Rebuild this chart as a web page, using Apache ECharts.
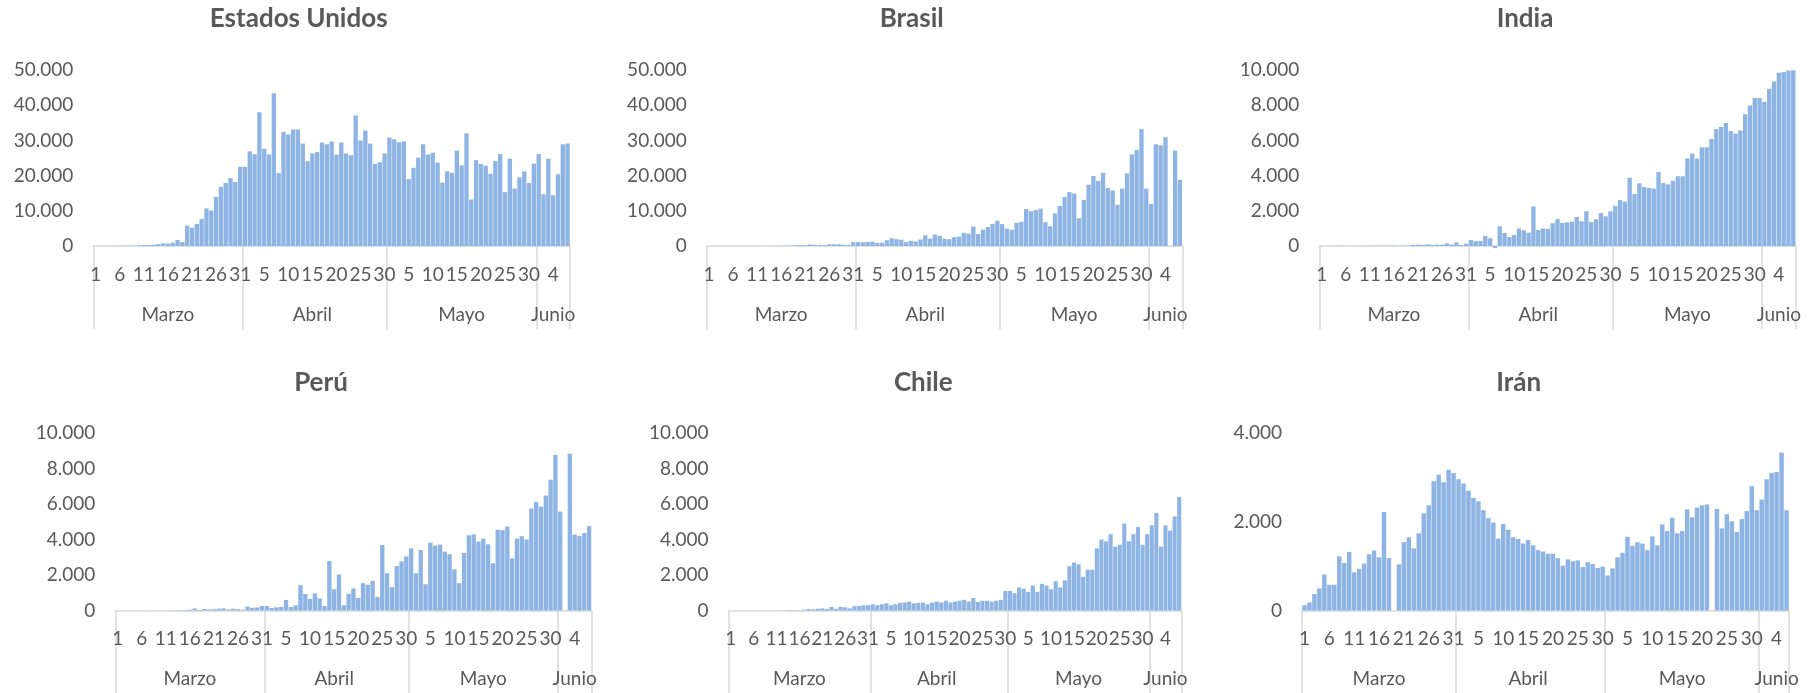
<!DOCTYPE html>
<html><head><meta charset="utf-8">
<script src="https://cdn.jsdelivr.net/npm/echarts@6/dist/echarts.min.js"></script>
<style>html,body{margin:0;padding:0;background:#fff}#c{width:1811px;height:693px}</style>
</head><body><div id="c"></div>
<script>
// Day-of-month categories: 1 Mar .. 7 Jun
const days = [
 "1","2","3","4","5","6","7","8","9","10","11","12","13","14","15","16","17","18","19","20","21","22","23","24","25","26","27","28","29","30","31",
 "1","2","3","4","5","6","7","8","9","10","11","12","13","14","15","16","17","18","19","20","21","22","23","24","25","26","27","28","29","30",
 "1","2","3","4","5","6","7","8","9","10","11","12","13","14","15","16","17","18","19","20","21","22","23","24","25","26","27","28","29","30","31",
 "1","2","3","4","5","6","7"
];
const monthNames = ["Marzo","Abril","Mayo","Junio"];
const monthStartIdx = [0,31,61,92];
const monthLabelIdx = [15,45,76,95];

const usa = [
 3,6,14,22,34,74,105,95,121,200, 271,287,351,511,777,700,940,1700,1130,5800,
 5200,6300,7700,10700,10100,13900,16800,17900,19300,18200, 22500,
 22500,26900,26100,38000,27600,26000,43400,20700,32400,31700,
 33100,33100,29100,24100,26300,26700,29400,28900,29700,26000,
 29400,26300,25800,37100,30000,32800,29100,23300,23800,26300,
 30800,30300,29500,29700,19000,22200,25100,28900,26000,26500,
 23700,18000,21200,20800,27100,22900,32000,13200,24400,23300,
 22800,20500,24100,26100,15300,24800,16300,19500,21200,17900, 23400,
 26100,14700,24800,14400,20400,28900,29100
];
const brasil = [
 0,1,0,0,6,1,5,6,0,5, 18,25,21,23,79,34,57,137,193,283,
 224,418,345,310,232,482,502,487,352,323, 1100,
 1100,1080,1150,1200,850,930,1650,2200,1930,1780,
 1090,1440,1260,1830,3050,2100,3250,2900,2050,1930,
 2500,2680,3730,3500,5500,3380,4600,5380,6280,7200,
 6200,4950,4600,6600,6900,10500,9900,10200,10600,6750,
 5600,9250,11400,13900,15300,14900,7900,13100,17400,19900,
 18500,20800,16500,15800,11700,16300,20600,26000,27300,33200, 16300,
 11900,28900,28600,30900,0,27100,18800
];
const india = [
 0,0,1,2,22,2,1,3,5,9, 15,8,10,11,10,23,12,23,22,64,
 79,69,87,66,81,75,149,88,200,50, 130,
 340,280,280,570,440,-120,1120,740,510,620,
 1000,890,760,2250,910,990,970,1290,1530,1310,
 1340,1380,1650,1400,1970,1360,1520,1870,1690,1970,
 2270,2610,2520,3880,2950,3560,3350,3300,3260,4200,
 3580,3500,3710,3960,3960,4980,5250,4960,5610,5610,
 6080,6650,6760,6990,6530,6380,6570,7480,7990,8410, 8410,
 8180,8940,9340,9850,9890,9970,9980
];
const peru = [
 0,0,0,0,0,1,0,5,1,2, 4,6,12,16,33,43,115,31,89,60,
 70,100,120,60,100,80,50,220,150,170, 250,
 260,140,180,200,590,200,300,1430,930,650,
 960,680,250,2790,1200,2030,300,940,1240,700,
 1540,1450,1670,760,3690,2100,1320,2510,2770,3050,
 3500,2100,3410,1480,3820,3650,3710,3320,3170,2320,
 1540,3240,4230,4290,3880,4050,3730,2660,4550,4530,
 4730,2940,4050,4190,4000,5740,6110,5850,6480,7360, 8760,
 5570,0,8830,4280,4190,4360,4750
];
const chile = [
 0,0,1,0,0,0,3,2,3,0, 0,10,10,18,14,14,44,85,64,104,
 120,87,196,92,206,178,123,243,252,293, 300,
 350,300,350,400,300,350,430,450,500,400,
 430,450,350,450,500,450,550,450,500,550,
 600,500,700,480,550,550,500,550,600,1100,
 1100,980,1300,1230,1050,1400,1050,1500,1400,1200,
 1650,1300,1700,2500,2700,2600,1900,2300,2300,3500,
 4000,3900,4300,3600,3700,4900,3900,4300,4700,3700, 4300,
 4800,5500,3600,4800,4500,5300,6400
];
const iran = [
 120,180,370,500,810,580,580,1220,1070,1320,
 860,940,1060,1270,1350,1200,2220,1180,0,1040,
 1540,1650,1400,1740,2190,2370,2910,3060,2890,3170, 3100,
 2960,2860,2700,2540,2460,2260,2080,1980,1620,1950,
 1820,1650,1610,1510,1590,1470,1360,1330,1280,1280,
 1180,1010,1150,1110,1130,980,1090,1050,960,990,
 790,950,1200,1300,1660,1460,1540,1510,1360,1670,
 1470,1940,1790,2090,1740,1790,2280,2100,2320,2370,
 2390,0,2290,1850,2170,2010,1770,2060,2240,2800, 2260,
 2500,2960,3100,3120,3560,2260
];

const FONT = "Lato, 'Liberation Sans', sans-serif";
const TXT = "#595959";
const AXIS = "#d9d9d9";
const BAR = "#8eb4e3";

const panels = [
 {title:"Estados Unidos", data:usa,    max:50000, step:10000, box:{left:93.3,  top:70,  width:476.7, height:176}, tx:298.7, ty:5},
 {title:"Brasil",         data:brasil, max:50000, step:10000, box:{left:706.7, top:70,  width:475.6, height:176}, tx:911.7, ty:5},
 {title:"India",          data:india,  max:10000, step:2000,  box:{left:1319.3,top:70,  width:476.4, height:176}, tx:1525,  ty:5},
 {title:"Perú",           data:peru,   max:10000, step:2000,  box:{left:115.3, top:433, width:476.2, height:177.5}, tx:321, ty:369},
 {title:"Chile",          data:chile,  max:10000, step:2000,  box:{left:728.5, top:433, width:453,   height:177.5}, tx:923.3, ty:369},
 {title:"Irán",           data:iran,   max:4000,  step:2000,  box:{left:1302,  top:433, width:487,   height:177.5}, tx:1518.7, ty:369}
];

const fmt = v => String(v).replace(/\B(?=(\d{3})+(?!\d))/g, ".");

const option = {
 animation:false,
 backgroundColor:"#ffffff",
 title:[], grid:[], xAxis:[], yAxis:[], series:[]
};
panels.forEach((p,k)=>{
 const cats = days.slice(0, p.data.length);
 option.title.push({text:p.title, left:p.tx, top:p.ty, textAlign:"center", padding:0,
   textStyle:{fontFamily:FONT, fontSize:26, fontWeight:"bold", color:TXT, lineHeight:28}});
 option.grid.push(Object.assign({outerBoundsMode:"none", containLabel:false}, p.box));
 option.xAxis.push({type:"category", gridIndex:k, data:cats, boundaryGap:true, position:"bottom",
   axisLine:{show:true, onZero:false, lineStyle:{color:AXIS, width:1.5}},
   axisTick:{show:false},
   axisLabel:{interval:4, color:TXT, fontFamily:FONT, fontSize:19, margin:19},
   splitLine:{show:false}});
 option.xAxis.push({type:"category", gridIndex:k, data:cats, boundaryGap:true, position:"bottom",
   axisLine:{show:false},
   axisTick:{show:true, length:83, interval:(i)=>monthStartIdx.indexOf(i)>=0, lineStyle:{color:AXIS, width:1.5}},
   axisLabel:{interval:(i)=>monthLabelIdx.indexOf(i)>=0, formatter:(v,i)=>monthNames[monthLabelIdx.indexOf(i)],
     color:TXT, fontFamily:FONT, fontSize:19, margin:59},
   splitLine:{show:false}});
 option.yAxis.push({type:"value", gridIndex:k, min:0, max:p.max, interval:p.step,
   axisLine:{show:false}, axisTick:{show:false}, splitLine:{show:false},
   axisLabel:{formatter:fmt, color:TXT, fontFamily:FONT, fontSize:19, margin:20}});
 option.series.push({type:"bar", xAxisIndex:2*k, yAxisIndex:k, data:p.data, clip:false,
   barCategoryGap:"10%", itemStyle:{color:BAR}, silent:true});
});
const chart = echarts.init(document.getElementById("c"), null, {renderer:"canvas"});
chart.setOption(option);
</script>
</body></html>
